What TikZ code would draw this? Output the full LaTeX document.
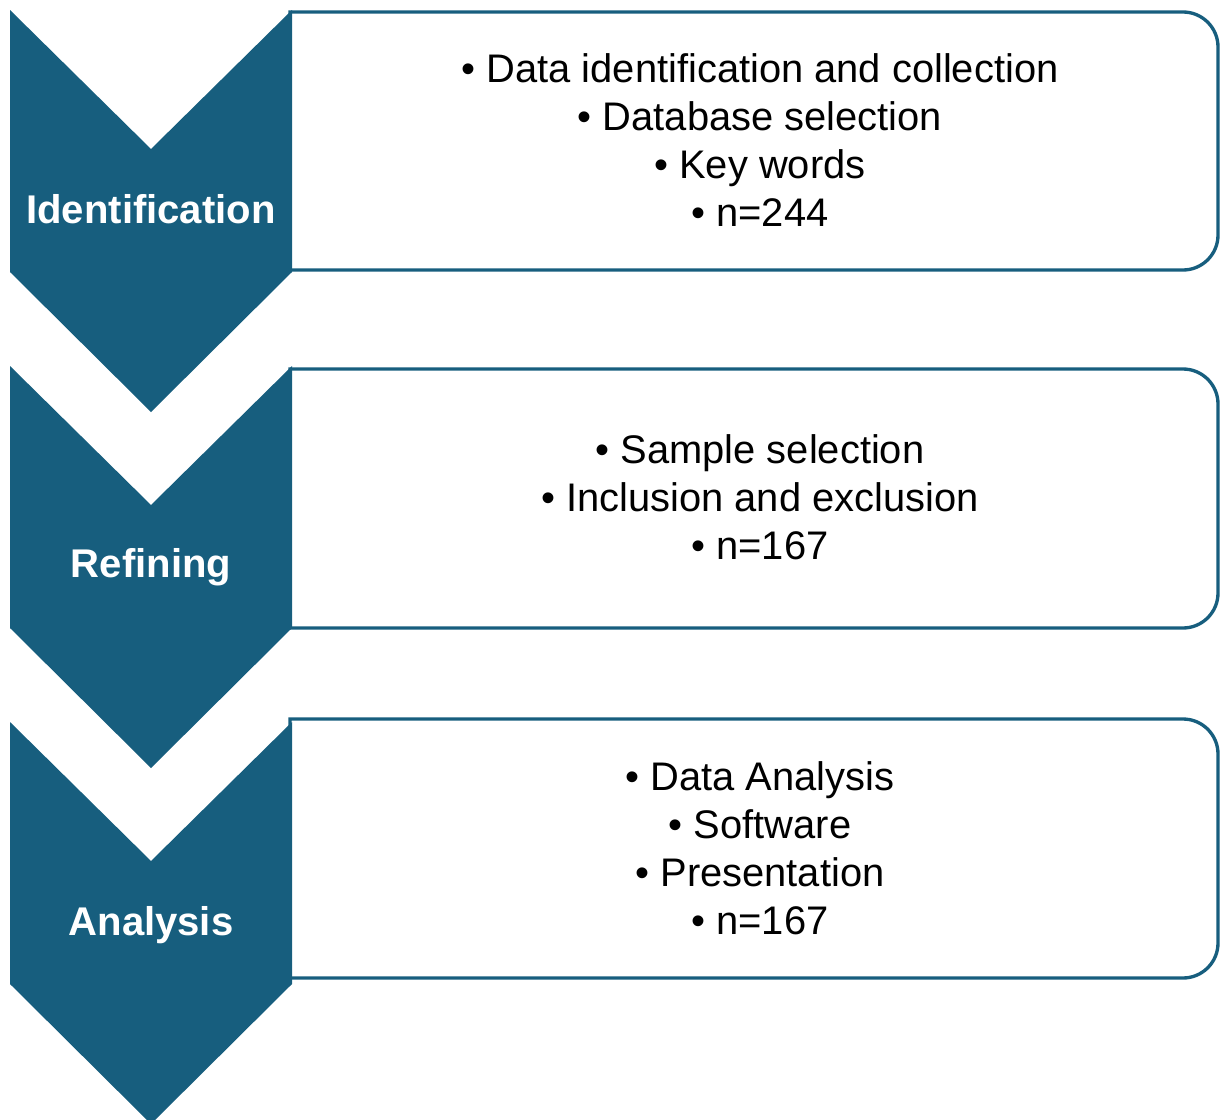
\documentclass[tikz,border=0pt]{standalone}
\usepackage{fontspec}
\setmainfont{Liberation Sans}
\definecolor{stageblue}{RGB}{23,94,126}
\tikzset{
  stage/.style={fill=stageblue},
  stagebox/.style={draw=stageblue, line width=1.9pt},
  stagelabel/.style={text=white, font=\fontsize{22.8}{27}\selectfont\bfseries},
  bullets/.style={align=center, font=\fontsize{22.7}{27.3}\selectfont}
}
\begin{document}
\begin{tikzpicture}[x=0.02cm,y=-0.02cm]
  \clip (0,0) rectangle (1220,1119);
  % rounded boxes behind the chevrons
  \foreach \t/\b in {12/270,369/628,719/978}
    \draw[stagebox] (290,\t) -- (1183,\t) arc[start angle=90,end angle=0,radius=0.7cm]
      -- (1218,\b-35) arc[start angle=0,end angle=-90,radius=0.7cm] -- (290,\b) -- cycle;
  % chevrons with the stage names
  \foreach \y/\ly/\name/\lab in {10/209/ident/Identification,366/567/refin/Refining,722/925/analy/Analysis} {
    \fill[stage] (10,\y) -- (151,\y+139) -- (292,\y) -- (292,\y+262)
      -- (151,\y+402) -- (10,\y+262) -- cycle;
    \node[stagelabel] (\name) at (151,\ly) {\lab};
  }
  % bullet lists
  \node[bullets] (identtext) at (760,140) {• Data identification and collection\\
    • Database selection\\ • Key words\\ • n=244};
  \node[bullets] (refintext) at (760,497) {• Sample selection\\
    • Inclusion and exclusion\\ • n=167};
  \node[bullets] (analytext) at (760,848) {• Data Analysis\\ • Software\\
    • Presentation\\ • n=167};
\end{tikzpicture}
\end{document}
